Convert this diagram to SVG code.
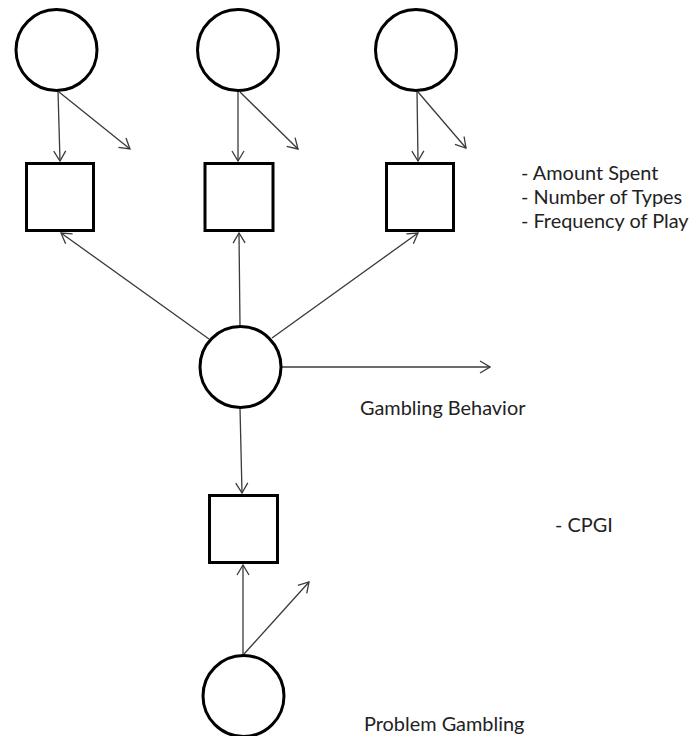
<svg xmlns="http://www.w3.org/2000/svg" width="695" height="736" viewBox="0 0 695 736">
  <style>
    .node { fill: #ffffff; stroke: #000000; stroke-width: 3; }
    .edge { fill: none; stroke: #3a3a3a; stroke-width: 1.3; marker-end: url(#arrow); }
    .label { font-family: Lato, "Liberation Sans", Arial, sans-serif; font-size: 19.9px; fill: #222222; }
  </style>
  <defs>
    <marker id="arrow" viewBox="0 0 12 14" refX="11" refY="7" markerWidth="12" markerHeight="14" markerUnits="userSpaceOnUse" orient="auto">
      <path d="M1,1 L11,7 L1,13" fill="none" stroke="#3a3a3a" stroke-width="1.3"/>
    </marker>
  </defs>

  <rect width="695" height="736" fill="#ffffff"/>

  <!-- connectors -->
  <g id="connectors">
    <!-- indicator loadings (top row) -->
    <line class="edge" x1="58" y1="91" x2="60" y2="161"/>
    <line class="edge" x1="59" y1="92" x2="130" y2="149"/>
    <line class="edge" x1="238" y1="91" x2="238" y2="161"/>
    <line class="edge" x1="240" y1="92" x2="298" y2="149"/>
    <line class="edge" x1="417" y1="91" x2="418" y2="161"/>
    <line class="edge" x1="418" y1="92" x2="466" y2="148"/>
    <!-- latent factor to indicators -->
    <line class="edge" x1="209" y1="339" x2="61" y2="233"/>
    <line class="edge" x1="240" y1="326" x2="239" y2="233"/>
    <line class="edge" x1="272" y1="338" x2="418" y2="233"/>
    <line class="edge" x1="282" y1="367" x2="490" y2="367"/>
    <line class="edge" x1="240" y1="408" x2="242" y2="493"/>
    <!-- problem gambling -->
    <line class="edge" x1="243" y1="654" x2="243" y2="565"/>
    <line class="edge" x1="244" y1="654" x2="309" y2="582"/>
  </g>

  <!-- nodes -->
  <g id="circle-top-1"><circle class="node" cx="56.5" cy="50" r="40.5"/></g>
  <g id="circle-top-2"><circle class="node" cx="238" cy="50" r="40.5"/></g>
  <g id="circle-top-3"><circle class="node" cx="416" cy="50" r="40.5"/></g>

  <g id="box-top-1"><rect class="node" x="26.5" y="163.5" width="67" height="67"/></g>
  <g id="box-top-2"><rect class="node" x="205" y="163.5" width="68" height="67"/></g>
  <g id="box-top-3"><rect class="node" x="386.5" y="163.5" width="67" height="67"/></g>

  <g id="gambling-behavior"><circle class="node" cx="240.5" cy="367" r="40.5"/></g>
  <g id="box-cpgi"><rect class="node" x="209.5" y="495.5" width="68" height="67"/></g>
  <g id="problem-gambling"><circle class="node" cx="243.5" cy="696" r="40.5"/></g>

  <!-- labels -->
  <g id="labels">
    <text class="label" x="521" y="180">- Amount Spent</text>
    <text class="label" x="521" y="204">- Number of Types</text>
    <text class="label" x="521" y="228">- Frequency of Play</text>
    <text class="label" x="360" y="415">Gambling Behavior</text>
    <text class="label" x="555" y="532">- CPGI</text>
    <text class="label" x="364" y="731">Problem Gambling</text>
  </g>
</svg>
